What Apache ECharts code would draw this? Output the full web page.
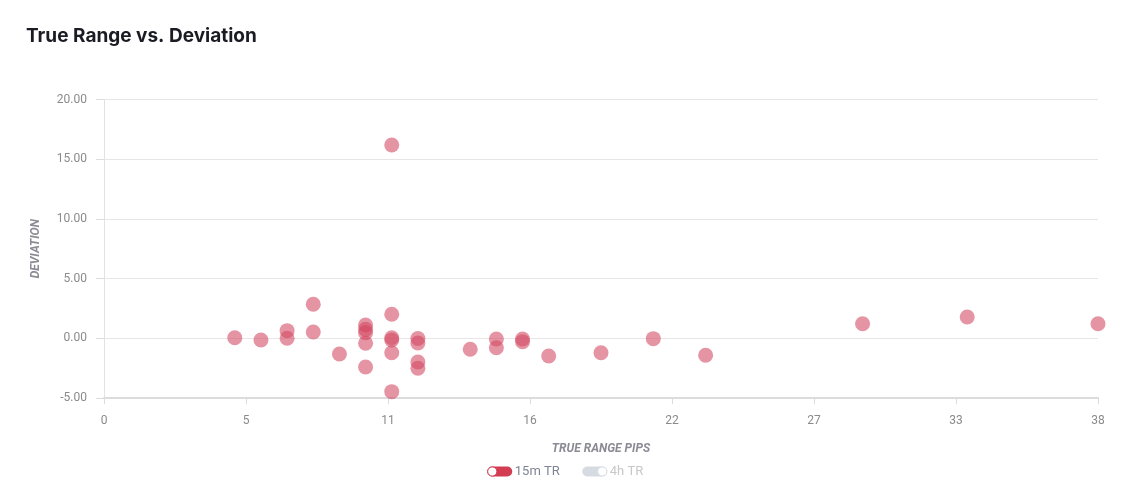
<!DOCTYPE html>
<html>
<head>
<meta charset="utf-8">
<script src="https://cdn.jsdelivr.net/npm/echarts@6/dist/echarts.min.js"></script>
<style>
  html, body { margin: 0; padding: 0; background: #fff; }
  #chart { width: 1130px; height: 496px; }
</style>
</head>
<body>
<div id="chart"></div>
<script>
// true range pips (x) and deviation (y) for the 15m series
const trPips = [5, 6, 7, 7, 8, 8, 9, 10, 10, 10, 10, 10, 11, 11, 11, 11, 11, 11, 12, 12, 12, 12, 14, 15, 15, 16, 16, 17, 19, 21, 23, 29, 33, 38]
const deviation = [0.05, -0.14, 0.64, 0.0, 2.85, 0.53, -1.31, 1.11, 0.75, 0.47, -0.42, -2.4, 16.19, 2.01, 0.05, -0.14, -1.21, -4.47, -0.02, -0.39, -1.98, -2.51, -0.92, -0.06, -0.79, -0.06, -0.28, -1.48, -1.21, -0.03, -1.42, 1.22, 1.78, 1.22]
// 4h series is switched off in the legend, nothing of it is visible
const trPips4h = []
const deviation4h = []

const seriesNames = ['15m TR', '4h TR']
const xMax = 38
const yTicks = [-5, 0, 5, 10, 15, 20]

const toPairs = (xs, ys) => xs.map((x, i) => [x, ys[i]])

const toggleIcon = (on) => {
  const svg = on
    ? '<svg xmlns="http://www.w3.org/2000/svg" width="26" height="11" viewBox="0 0 26 11"><rect x="0.5" y="0.5" width="25" height="10" rx="5" fill="#d23d52"/><circle cx="5.5" cy="5.5" r="4.6" fill="#fff" stroke="#d23d52" stroke-width="1"/></svg>'
    : '<svg xmlns="http://www.w3.org/2000/svg" width="26" height="11" viewBox="0 0 26 11"><rect x="0.5" y="0.5" width="25" height="10" rx="5" fill="#d6dbe2"/><circle cx="20.5" cy="5.5" r="4.6" fill="#fff" stroke="#d6dbe2" stroke-width="1"/></svg>'
  return 'image://data:image/svg+xml;charset=utf-8,' + encodeURIComponent(svg)
}

const chart = echarts.init(document.getElementById('chart'))

const option = {
  animation: false,
  title: {
    text: 'True Range vs. Deviation',
    left: 21,
    top: 22,
    textStyle: {
      fontFamily: 'Inter',
      fontSize: 19,
      fontWeight: 700,
      color: '#1b1b24'
    }
  },
  legend: {
    bottom: 13,
    left: 'center',
    itemWidth: 26,
    itemHeight: 11,
    itemGap: 22,
    selected: { '4h TR': false },
    inactiveColor: '#c8c8c8',
    itemStyle: { opacity: 1 },
    textStyle: {
      fontFamily: 'Roboto',
      fontSize: 13,
      color: '#7d8594',
      padding: [0, 0, 0, -3]
    },
    data: [
      { name: seriesNames[0], icon: toggleIcon(true), itemStyle: { opacity: 1 } },
      { name: seriesNames[1], icon: toggleIcon(false), itemStyle: { opacity: 1 } }
    ]
  },
  grid: {
    left: 104,
    right: 32,
    top: 99.5,
    bottom: 98
  },
  xAxis: {
    type: 'value',
    min: 0,
    max: xMax,
    interval: xMax / 7,
    name: 'TRUE RANGE PIPS',
    nameLocation: 'middle',
    nameGap: 45,
    nameTextStyle: {
      fontFamily: 'Roboto',
      fontSize: 12,
      fontStyle: 'italic',
      fontWeight: 'bold',
      color: '#8b8b95'
    },
    axisLine: { show: true, onZero: false, lineStyle: { color: '#dcdcdc', width: 2 } },
    axisTick: {
      show: true,
      length: 6,
      interval: (i) => i === 0,
      lineStyle: { color: '#dcdcdc' }
    },
    splitLine: { show: false },
    axisLabel: {
      margin: 17,
      fontFamily: 'Roboto',
      fontSize: 12,
      color: '#8a8a8a',
      formatter: (v) => Math.round(v).toString()
    }
  },
  yAxis: {
    type: 'value',
    min: yTicks[0],
    max: yTicks[yTicks.length - 1],
    interval: 5,
    name: 'DEVIATION',
    nameLocation: 'middle',
    nameGap: 62,
    nameTextStyle: {
      fontFamily: 'Roboto',
      fontSize: 12,
      fontStyle: 'italic',
      fontWeight: 'bold',
      color: '#8b8b95'
    },
    axisLine: { show: true, onZero: false, lineStyle: { color: '#e2e2e2', width: 1 } },
    axisTick: {
      show: true,
      length: 8,
      interval: (i) => i === 0,
      lineStyle: { color: '#dcdcdc' }
    },
    splitLine: { show: true, lineStyle: { color: '#e6e6e6', width: 1 } },
    axisLabel: {
      margin: 17,
      fontFamily: 'Roboto',
      fontSize: 12,
      color: '#8a8a8a',
      formatter: (v) => v.toFixed(2)
    }
  },
  series: [
    {
      name: seriesNames[0],
      type: 'scatter',
      symbolSize: 15,
      itemStyle: { color: '#d34660', opacity: 0.58 },
      data: toPairs(trPips, deviation)
    },
    {
      name: seriesNames[1],
      type: 'scatter',
      symbolSize: 15,
      itemStyle: { color: '#9aa3b0', opacity: 0.58 },
      data: toPairs(trPips4h, deviation4h)
    }
  ]
}

chart.setOption(option)
</script>
</body>
</html>
